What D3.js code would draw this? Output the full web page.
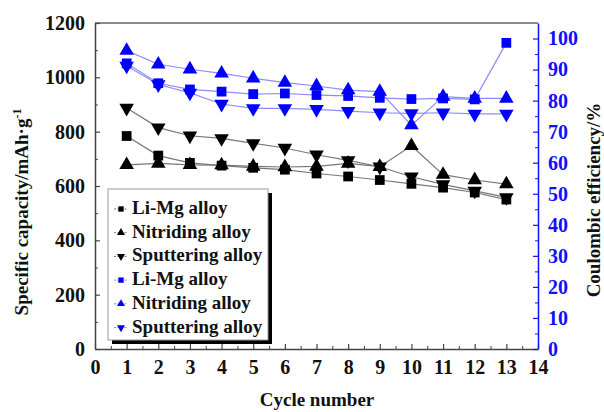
<!DOCTYPE html>
<html><head><meta charset="utf-8">
<script src="https://cdn.jsdelivr.net/npm/d3@7"></script>
<style>
body{margin:0;background:#fff;}
text{font-family:"Liberation Serif","Times New Roman",serif;font-weight:bold;}
</style></head>
<body><svg id="c" width="604" height="412"></svg>
<script>
const cycles = [1,2,3,4,5,6,7,8,9,10,11,12,13];
const capLiMg       = [784,712,685,675,667,660,646,635,622,608,594,576,550];
const capNitriding  = [678,683,678,677,672,670,672,683,671,748,642,622,607];
const capSputtering = [887,815,785,775,757,740,715,694,671,634,606,582,558];
const ceLiMg        = [92.0,85.6,83.6,82.9,82.1,82.3,81.8,81.5,80.9,80.5,80.7,80.4,98.6];
const ceNitriding   = [96.1,91.7,90.1,88.8,87.2,85.8,84.7,83.4,82.9,72.1,81.3,80.7,80.7];
const ceSputtering  = [91.2,85.2,82.5,78.9,77.5,77.5,77.2,76.6,76.1,75.9,76.1,75.7,75.7];
const xTicks = [0,1,2,3,4,5,6,7,8,9,10,11,12,13,14];
const leftTicks = [0,200,400,600,800,1000,1200];
const rightTicks = [0,10,20,30,40,50,60,70,80,90,100];
const legendLabels = ["Li-Mg alloy","Nitriding alloy","Sputtering alloy","Li-Mg alloy","Nitriding alloy","Sputtering alloy"];

const svg = d3.select("#c");
const L=95, R=538, T=23, B=349;
const x = d3.scaleLinear().domain([0,14]).range([L,R]);
const yL = d3.scaleLinear().domain([0,1200]).range([B,T]);
const yR = d3.scaleLinear().domain([0,105]).range([B,T]);
const axisCol = "#444", blue = "#1010ff";

svg.append("line").attr("x1",L).attr("x2",R).attr("y1",T).attr("y2",T).attr("stroke","#666").attr("stroke-width",1.5);

function styleAxis(g,col){
  g.select(".domain").attr("stroke",col).attr("stroke-width",1.5);
  g.selectAll(".tick line").attr("stroke",col).attr("stroke-width",1.2);
  g.selectAll("text").attr("fill",col==blue?blue:"#111").style("font-size","20px");
}
const gx = svg.append("g").attr("transform",`translate(0,${B})`)
  .call(d3.axisBottom(x).tickValues(xTicks).tickFormat(d3.format("d")).tickSizeInner(-5).tickSizeOuter(0).tickPadding(11));
styleAxis(gx,axisCol);
const gxm = svg.append("g").attr("transform",`translate(0,${B})`)
  .call(d3.axisBottom(x).tickValues(d3.range(0.5,14,1)).tickFormat("").tickSizeInner(-3).tickSizeOuter(0));
gxm.select(".domain").remove(); gxm.selectAll("line").attr("stroke",axisCol);

const gl = svg.append("g").attr("transform",`translate(${L},0)`)
  .call(d3.axisLeft(yL).tickValues(leftTicks).tickFormat(d3.format("d")).tickSizeInner(-5).tickSizeOuter(0).tickPadding(10));
styleAxis(gl,axisCol);
const glm = svg.append("g").attr("transform",`translate(${L},0)`)
  .call(d3.axisLeft(yL).tickValues(d3.range(100,1200,200)).tickFormat("").tickSizeInner(-3).tickSizeOuter(0));
glm.select(".domain").remove(); glm.selectAll("line").attr("stroke",axisCol);

const gr = svg.append("g").attr("transform",`translate(${R},0)`)
  .call(d3.axisRight(yR).tickValues(rightTicks).tickFormat(d3.format("d")).tickSizeInner(-5).tickSizeOuter(0).tickPadding(10));
styleAxis(gr,blue);
const grm = svg.append("g").attr("transform",`translate(${R},0)`)
  .call(d3.axisRight(yR).tickValues(d3.range(5,105,10)).tickFormat("").tickSizeInner(-3).tickSizeOuter(0));
grm.select(".domain").remove(); grm.selectAll("line").attr("stroke",blue);

const series = [
  {v:capLiMg, y:yL, sym:"sq", col:"#000", line:"#777"},
  {v:capNitriding, y:yL, sym:"up", col:"#000", line:"#777"},
  {v:capSputtering, y:yL, sym:"down", col:"#000", line:"#777"},
  {v:ceLiMg, y:yR, sym:"sq", col:"#0000ff", line:"#8c8cff"},
  {v:ceNitriding, y:yR, sym:"up", col:"#0000ff", line:"#8c8cff"},
  {v:ceSputtering, y:yR, sym:"down", col:"#0000ff", line:"#8c8cff"},
];
function symPath(type, s){
  if(type==="sq") return d3.symbol(d3.symbolSquare, 95*s*s)();
  return d3.symbol(d3.symbolTriangle, 92*s*s)();
}
function symTransform(type,px,py){
  return type==="down" ? `translate(${px},${py}) rotate(180)` : `translate(${px},${py})`;
}
series.forEach(s=>{
  const line = d3.line().x((d,i)=>x(cycles[i])).y(d=>s.y(d));
  svg.append("path").attr("d",line(s.v)).attr("fill","none").attr("stroke",s.line).attr("stroke-width",1.2);
});
series.forEach(s=>{
  svg.append("g").selectAll("path").data(s.v).join("path")
    .attr("d",symPath(s.sym,1))
    .attr("transform",(d,i)=>symTransform(s.sym,x(cycles[i]),s.y(d)))
    .attr("fill",s.col);
});

const lg = svg.append("g");
const lx=108, ly=189, lw=160, lh=151;
lg.append("rect").attr("x",lx+4).attr("y",ly+4).attr("width",lw).attr("height",lh).attr("fill","#000");
lg.append("rect").attr("x",lx).attr("y",ly).attr("width",lw).attr("height",lh).attr("fill","#fff").attr("stroke","#999").attr("stroke-width",1);
legendLabels.forEach((t,i)=>{
  const s = series[i];
  const cy = ly+19+i*23.7;
  lg.append("line").attr("x1",lx+6).attr("x2",lx+19).attr("y1",cy+1).attr("y2",cy+1)
    .attr("stroke",s.line).attr("stroke-dasharray","2,1.5").attr("stroke-width",1);
  lg.append("path").attr("d",symPath(s.sym,0.55)).attr("transform",symTransform(s.sym,lx+13,cy+1)).attr("fill",s.col);
  lg.append("text").attr("x",lx+24).attr("y",cy+6).text(t).style("font-size","19px").attr("fill","#111");
});

svg.append("text").attr("x",317).attr("y",406).attr("text-anchor","middle").style("font-size","19px").attr("fill","#111").text("Cycle number");
const lt = svg.append("text").attr("transform","translate(28,212) rotate(-90)").attr("text-anchor","middle").style("font-size","19px").attr("fill","#111");
lt.append("tspan").text("Specific capacity/mAh·g");
lt.append("tspan").attr("dy",-7).style("font-size","12px").text("-1");
svg.append("text").attr("transform","translate(600,200) rotate(-90)").attr("text-anchor","middle").style("font-size","19px").attr("fill","#111").text("Coulombic efficiency/%");
</script></body></html>
